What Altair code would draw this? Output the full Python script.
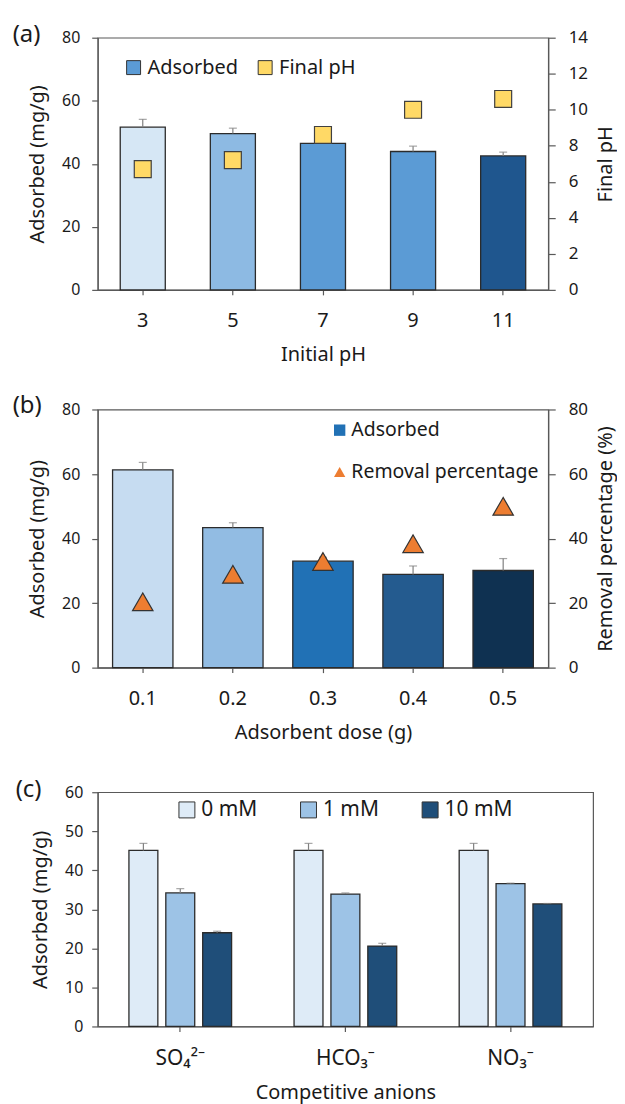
import altair as alt
import pandas as pd

FONT = "Noto Sans"
TXT = "#1a1a1a"
AX = "#595959"
ERR = "#808080"

# ---------------- data: panel (a) ----------------
ph_labels = ["3", "5", "7", "9", "11"]
ph_adsorbed = [51.6, 49.6, 46.5, 43.9, 42.5]
ph_err_top = [54.1, 51.3, 47.7, 45.6, 43.7]
final_ph = [6.7, 7.2, 8.6, 10.0, 10.6]
ph_colors = ["#d6e7f5", "#8dbae3", "#5b9bd5", "#5b9bd5", "#1f568e"]

# ---------------- data: panel (b) ----------------
dose_labels = ["0.1", "0.2", "0.3", "0.4", "0.5"]
dose_adsorbed = [61.3, 43.4, 33.0, 28.9, 30.1]
dose_err_top = [63.6, 44.9, 34.2, 31.5, 33.8]
removal_pct = [20.4, 28.9, 32.9, 38.4, 50.0]
dose_colors = ["#c6dcf1", "#92bce3", "#2171b5", "#245b8f", "#0f3151"]

# ---------------- data: panel (c) ----------------
anions = ["SO₄²⁻", "HCO₃⁻", "NO₃⁻"]
concs = ["0 mM", "1 mM", "10 mM"]
conc_colors = ["#deebf7", "#9dc3e6", "#1f4e79"]
vals_0mM = [45.1, 45.1, 45.1]
vals_1mM = [34.2, 33.9, 36.6]
vals_10mM = [24.0, 20.6, 31.4]
err_0mM = [46.9, 46.9, 46.9]
err_1mM = [35.3, 34.2, 36.7]
err_10mM = [24.4, 21.3, 31.5]

df_a = pd.DataFrame({"ph": ph_labels, "adsorbed": ph_adsorbed, "err_top": ph_err_top,
                     "final_ph": final_ph, "color": ph_colors, "series": "Final pH"})
df_b = pd.DataFrame({"dose": dose_labels, "adsorbed": dose_adsorbed, "err_top": dose_err_top,
                     "removal": removal_pct, "color": dose_colors, "series": "Removal percentage"})
rows = []
for c, vals, errs in zip(concs, [vals_0mM, vals_1mM, vals_10mM], [err_0mM, err_1mM, err_10mM]):
    for a, v, e in zip(anions, vals, errs):
        rows.append({"anion": a, "conc": c, "adsorbed": v, "err_top": e})
df_c = pd.DataFrame(rows)


def panel_title(t):
    return alt.TitleParams(text=t, anchor="start", frame="bounds", fontSize=24,
                           fontWeight="normal", font=FONT, color=TXT, offset=0, dx=-15, dy=18)


def left_axis(values, lp=12):
    return alt.Axis(title="Adsorbed (mg/g)", values=values, tickSize=6, labelPadding=lp,
                    labelFontSize=16, titleFontSize=20, titlePadding=14)


def right_axis(title, values):
    return alt.Axis(orient="right", title=title, values=values, tickSize=7, labelPadding=13,
                    labelFontSize=17, titleFontSize=20, titlePadding=8, titleAngle=270,
                    titleBaseline="top")


def bottom_axis(title, fs=20):
    return alt.Axis(title=title, labelAngle=0, tickSize=5, labelPadding=16,
                    labelFontSize=fs, titleFontSize=20, titlePadding=14)


# ---------------- panel (a) ----------------
xa = alt.X("ph:N", sort=ph_labels, scale=alt.Scale(paddingInner=0.5, paddingOuter=0.25),
           axis=bottom_axis("Initial pH"))
ya = alt.Y("adsorbed:Q", scale=alt.Scale(domain=[0, 80]), axis=left_axis([0, 20, 40, 60, 80]))
base_a = alt.Chart(df_a)
bars_a = base_a.mark_bar(stroke="#2b2b2b", strokeWidth=1.3).encode(
    x=xa, y=ya, color=alt.Color("color:N", scale=None))
rule_a = base_a.mark_rule(color=ERR, strokeWidth=1.2).encode(x=xa, y=ya, y2="err_top:Q")
cap_a = base_a.mark_tick(color=ERR, size=8, thickness=1.2).encode(
    x=xa, y=alt.Y("err_top:Q", scale=alt.Scale(domain=[0, 80]), axis=left_axis([0, 20, 40, 60, 80])))
pts_a = base_a.mark_point(shape="square", filled=True, size=289, stroke="#404040",
                          strokeWidth=1.2, opacity=1).encode(
    x=xa,
    y=alt.Y("final_ph:Q", scale=alt.Scale(domain=[0, 14]),
            axis=right_axis("Final pH", [0, 2, 4, 6, 8, 10, 12, 14])),
    fill=alt.Fill("series:N",
                  scale=alt.Scale(domain=["Adsorbed", "Final pH"], range=["#5b9bd5", "#ffd966"]),
                  legend=alt.Legend(title=None, orient="none", legendX=26, legendY=20,
                                    direction="horizontal", symbolType="square", symbolSize=196,
                                    symbolStrokeColor="#333333", symbolStrokeWidth=1,
                                    labelFontSize=20, columnPadding=17, symbolOffset=0,
                                    labelOffset=4, labelLimit=0)))
chart_a = alt.layer(alt.layer(bars_a, rule_a, cap_a), pts_a).resolve_scale(
    y="independent").properties(width=452, height=253, title=panel_title("(a)"))

# ---------------- panel (b) ----------------
xb = alt.X("dose:N", sort=dose_labels, scale=alt.Scale(paddingInner=0.33, paddingOuter=0.165),
           axis=bottom_axis("Adsorbent dose (g)"))
yb = alt.Y("adsorbed:Q", scale=alt.Scale(domain=[0, 80]), axis=left_axis([0, 20, 40, 60, 80]))
base_b = alt.Chart(df_b)
bars_b = base_b.mark_bar(stroke="#2b2b2b", strokeWidth=1.3).encode(
    x=xb, y=yb, color=alt.Color("color:N", scale=None))
rule_b = base_b.mark_rule(color=ERR, strokeWidth=1.2).encode(x=xb, y=yb, y2="err_top:Q")
cap_b = base_b.mark_tick(color=ERR, size=8, thickness=1.2).encode(
    x=xb, y=alt.Y("err_top:Q", scale=alt.Scale(domain=[0, 80]), axis=left_axis([0, 20, 40, 60, 80])))
leg_b = alt.Legend(title=None, orient="none", legendX=233, legendY=11, direction="vertical",
                   symbolSize=130, symbolStrokeColor="#333333", symbolStrokeWidth=1,
                   labelFontSize=19.5, rowPadding=21, labelOffset=2, labelLimit=0)
pts_b = base_b.mark_point(filled=True, size=420, stroke="#333333", strokeWidth=1.2, opacity=1).encode(
    x=xb,
    y=alt.Y("removal:Q", scale=alt.Scale(domain=[0, 80]),
            axis=right_axis("Removal percentage (%)", [0, 20, 40, 60, 80])),
    fill=alt.Fill("series:N",
                  scale=alt.Scale(domain=["Adsorbed", "Removal percentage"],
                                  range=["#2171b5", "#ed7d31"]), legend=leg_b),
    shape=alt.Shape("series:N",
                    scale=alt.Scale(domain=["Adsorbed", "Removal percentage"],
                                    range=["square", "triangle-up"]), legend=leg_b))
chart_b = alt.layer(alt.layer(bars_b, rule_b, cap_b), pts_b).resolve_scale(
    y="independent").properties(width=452, height=259, title=panel_title("(b)"))

# ---------------- panel (c) ----------------
xc = alt.X("anion:N", sort=anions, scale=alt.Scale(paddingInner=0.33, paddingOuter=0.165),
           axis=bottom_axis("Competitive anions", fs=21))
xoff = alt.XOffset("conc:N", sort=concs, scale=alt.Scale(paddingInner=0.216, paddingOuter=0.108))
yc = alt.Y("adsorbed:Q", scale=alt.Scale(domain=[0, 60]),
           axis=left_axis([0, 10, 20, 30, 40, 50, 60], lp=9))
base_c = alt.Chart(df_c)
bars_c = base_c.mark_bar(stroke="#2b2b2b", strokeWidth=1.3).encode(
    x=xc, xOffset=xoff, y=yc,
    color=alt.Color("conc:N", sort=concs,
                    scale=alt.Scale(domain=concs, range=conc_colors),
                    legend=alt.Legend(title=None, orient="none", legendX=79, legendY=7,
                                      direction="horizontal", symbolType="square",
                                      symbolSize=256, symbolStrokeColor="#333333",
                                      symbolStrokeWidth=1, labelFontSize=21,
                                      columnPadding=40, labelOffset=4, labelLimit=0)))
rule_c = base_c.mark_rule(color=ERR, strokeWidth=1.2).encode(
    x=xc, xOffset=xoff, y=yc, y2="err_top:Q")
cap_c = base_c.mark_tick(color=ERR, size=8, thickness=1.2).encode(
    x=xc, xOffset=xoff,
    y=alt.Y("err_top:Q", scale=alt.Scale(domain=[0, 60]),
            axis=left_axis([0, 10, 20, 30, 40, 50, 60], lp=9)))
chart_c = alt.layer(bars_c, rule_c, cap_c).properties(
    width=497, height=235, title=panel_title("(c)"))

top_two = alt.vconcat(chart_a, chart_b, spacing=28).resolve_scale(
    color="independent", fill="independent", shape="independent").resolve_legend(
    color="independent", fill="independent", shape="independent")

chart = alt.vconcat(top_two, chart_c, spacing=34).resolve_scale(
    color="independent", fill="independent", shape="independent").resolve_legend(
    color="independent", fill="independent", shape="independent").properties(
    padding={"left": 4, "top": 12, "right": 0, "bottom": 0}
).configure_view(stroke=AX, strokeWidth=1.2).configure_axis(
    grid=False, domainColor=AX, tickColor=AX, domainWidth=1.2, tickWidth=1.2,
    labelColor=TXT, titleColor=TXT, labelFont=FONT, titleFont=FONT,
    titleFontWeight="normal"
).configure_legend(labelFont=FONT, labelColor=TXT).configure_title(font=FONT)

chart.save("out.html", embed_options={"renderer": "svg", "actions": False})
